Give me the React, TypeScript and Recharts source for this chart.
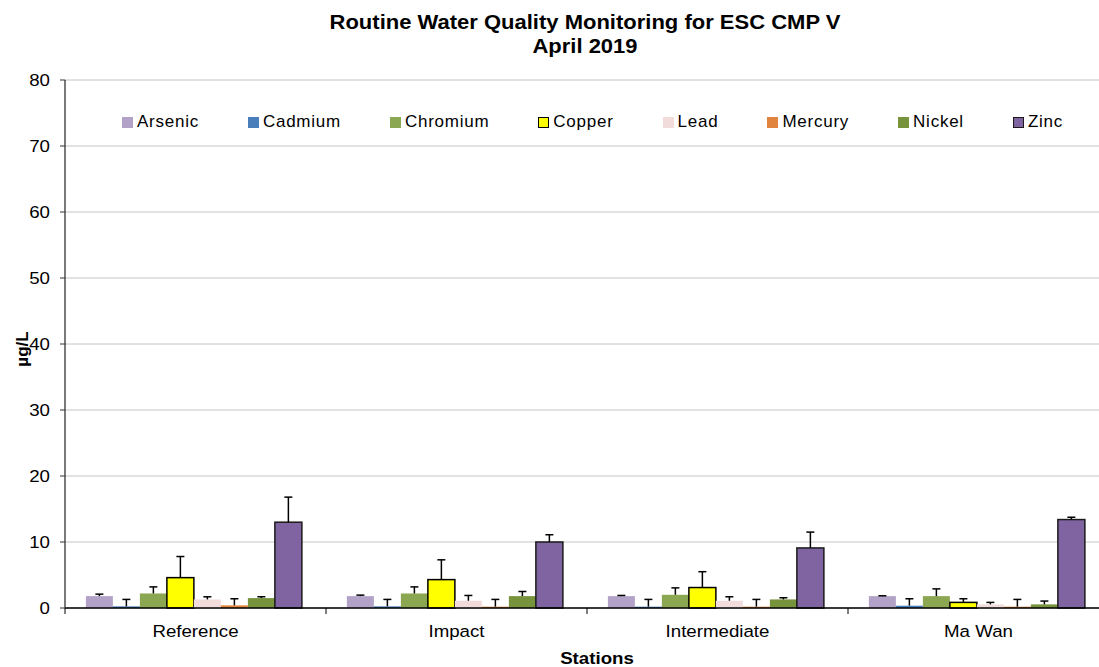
import React from 'react';
import { BarChart, Bar, XAxis, YAxis, CartesianGrid, Label } from 'recharts';

const stations = ['Reference', 'Impact', 'Intermediate', 'Ma Wan'];
const yTicks = [0, 10, 20, 30, 40, 50, 60, 70, 80];

const arsenic = [1.8, 1.8, 1.8, 1.8];
const arsenicErr = [0.3, 0.15, 0.1, 0.05];
const cadmium = [0.25, 0.25, 0.2, 0.35];
const cadmiumErr = [1.05, 1.05, 1.1, 1.05];
const chromium = [2.2, 2.2, 2.0, 1.8];
const chromiumErr = [1.0, 1.0, 1.05, 1.1];
const copper = [4.6, 4.3, 3.1, 0.85];
const copperErr = [3.2, 3.0, 2.4, 0.55];
const lead = [1.3, 1.1, 1.1, 0.55];
const leadErr = [0.4, 0.8, 0.6, 0.3];
const mercury = [0.4, 0.2, 0.2, 0.2];
const mercuryErr = [1.0, 1.1, 1.1, 1.1];
const nickel = [1.5, 1.8, 1.3, 0.55];
const nickelErr = [0.2, 0.7, 0.25, 0.5];
const zinc = [13.0, 10.0, 9.1, 13.4];
const zincErr = [3.8, 1.1, 2.4, 0.35];

const metals = [
  { name: 'Arsenic', values: arsenic, errors: arsenicErr, fill: '#B3A2C7', stroke: 'none' },
  { name: 'Cadmium', values: cadmium, errors: cadmiumErr, fill: '#4A7EBB', stroke: 'none' },
  { name: 'Chromium', values: chromium, errors: chromiumErr, fill: '#8BA752', stroke: 'none' },
  { name: 'Copper', values: copper, errors: copperErr, fill: '#FFFF00', stroke: '#000000' },
  { name: 'Lead', values: lead, errors: leadErr, fill: '#F2DCDB', stroke: 'none' },
  { name: 'Mercury', values: mercury, errors: mercuryErr, fill: '#E0843E', stroke: 'none' },
  { name: 'Nickel', values: nickel, errors: nickelErr, fill: '#77933C', stroke: 'none' },
  { name: 'Zinc', values: zinc, errors: zincErr, fill: '#8064A2', stroke: '#1a1a1a' },
];

const data = stations.map((s, i) => {
  const row: Record<string, any> = { station: s };
  metals.forEach((m) => {
    row[m.name] = m.values[i];
    row[m.name + '_err'] = m.errors[i];
  });
  return row;
});

const FONT = '"Liberation Sans", Arial, sans-serif';
const STRETCH = 1.1;
const CHART_W = 1109;
const CHART_H = 667;
const MARGIN = { top: 80, right: 0, bottom: 29, left: 0 };
const Y_W = 65;
const PLOT_W = CHART_W - MARGIN.left - MARGIN.right - Y_W;
const HALF_BAND = PLOT_W / stations.length / 2;

const makeShape = (name: string, fill: string, stroke: string) => (props: any) => {
  const { x, y, width, height, payload } = props;
  const v = payload[name];
  const e = payload[name + '_err'];
  const pxPerUnit = v ? height / v : 0;
  const eh = e * pxPerUnit;
  const cx = x + width / 2;
  return (
    <g>
      <rect x={x} y={y} width={width} height={height} fill={fill} stroke={stroke} strokeWidth={1.5} />
      <line x1={cx} y1={y} x2={cx} y2={y - eh} stroke="#000" strokeWidth={1.5} />
      <line x1={cx - 4} y1={y - eh} x2={cx + 4} y2={y - eh} stroke="#000" strokeWidth={1.5} />
    </g>
  );
};

const SText = ({ x, y, anchor, bold, children }: any) => (
  <text
    transform={`translate(${x},${y}) scale(${STRETCH},1)`}
    x={0}
    y={0}
    textAnchor={anchor}
    fontFamily={FONT}
    fontWeight={bold ? 'bold' : 'normal'}
    fontSize={17}
    fill="#000"
  >
    {children}
  </text>
);

const XTick = (props: any) => {
  const { x, y, payload, index } = props;
  return (
    <g>
      <line x1={x - HALF_BAND} y1={y} x2={x - HALF_BAND} y2={y + 6} stroke="#000" strokeWidth={1} />
      {index === stations.length - 1 && (
        <line x1={x + HALF_BAND} y1={y} x2={x + HALF_BAND} y2={y + 6} stroke="#000" strokeWidth={1} />
      )}
      <SText x={x} y={y + 29} anchor="middle">
        {payload.value}
      </SText>
    </g>
  );
};

const YTick = (props: any) => {
  const { x, y, payload } = props;
  return (
    <SText x={x} y={y + 6} anchor="end">
      {payload.value}
    </SText>
  );
};

export default function App() {
  return (
    <div style={{ position: 'absolute', left: 0, top: 0, width: 1099, height: 667, overflow: 'hidden', background: '#fff' }}>
      <div
        style={{
          position: 'absolute',
          left: 285,
          width: 600,
          top: 10,
          textAlign: 'center',
          fontFamily: FONT,
          fontWeight: 'bold',
          fontSize: 20,
          lineHeight: '24px',
          color: '#000',
          transform: `scaleX(${STRETCH})`,
          transformOrigin: '300px 0',
        }}
      >
        Routine Water Quality Monitoring for ESC CMP V
        <br />
        April 2019
      </div>
      <BarChart
        width={CHART_W}
        height={CHART_H}
        data={data}
        margin={MARGIN}
        barCategoryGap="8%"
        barGap={0}
      >
        <CartesianGrid vertical={false} stroke="#C4C4C4" strokeWidth={1} />
        <XAxis
          dataKey="station"
          height={30}
          axisLine={{ stroke: '#000', strokeWidth: 1.3 }}
          tickLine={false}
          tickSize={0}
          tickMargin={0}
          tick={<XTick />}
          interval={0}
        >
          <Label
            content={(p: any) => {
              const vb = p.viewBox;
              return (
                <SText x={vb.x + vb.width / 2 + 10} y={CHART_H - 3} anchor="middle" bold>
                  Stations
                </SText>
              );
            }}
          />
        </XAxis>
        <YAxis
          width={Y_W}
          domain={[0, 80]}
          ticks={yTicks}
          interval={0}
          axisLine={{ stroke: '#333', strokeWidth: 1.3 }}
          tickLine={{ stroke: '#333' }}
          tickSize={5}
          tickMargin={10}
          tick={<YTick />}
        >
          <Label
            content={(p: any) => {
              const vb = p.viewBox;
              const cy = vb.y + vb.height / 2 + 5;
              return (
                <text
                  x={22}
                  y={cy}
                  transform={`rotate(-90, 22, ${cy})`}
                  textAnchor="middle"
                  dominantBaseline="central"
                  fontFamily={FONT}
                  fontWeight="bold"
                  fontSize={17}
                  fill="#000"
                >
                  µg/L
                </text>
              );
            }}
          />
        </YAxis>
        {metals.map((m) => (
          <Bar
            key={m.name}
            dataKey={m.name}
            isAnimationActive={false}
            shape={makeShape(m.name, m.fill, m.stroke)}
          />
        ))}
      </BarChart>
      <div
        style={{
          position: 'absolute',
          left: 122,
          top: 112,
          display: 'flex',
          alignItems: 'center',
          gap: 49,
          fontFamily: FONT,
          fontSize: 17,
          letterSpacing: '0.75px',
          color: '#000',
          whiteSpace: 'nowrap',
        }}
      >
        {metals.map((m) => (
          <div key={m.name} style={{ display: 'flex', alignItems: 'center' }}>
            <span
              style={{
                display: 'inline-block',
                width: m.stroke === 'none' ? 11 : 9,
                height: m.stroke === 'none' ? 11 : 9,
                background: m.fill,
                border: m.stroke === 'none' ? 'none' : `1px solid ${m.stroke}`,
                marginRight: 4,
              }}
            />
            <span>{m.name}</span>
          </div>
        ))}
      </div>
    </div>
  );
}
